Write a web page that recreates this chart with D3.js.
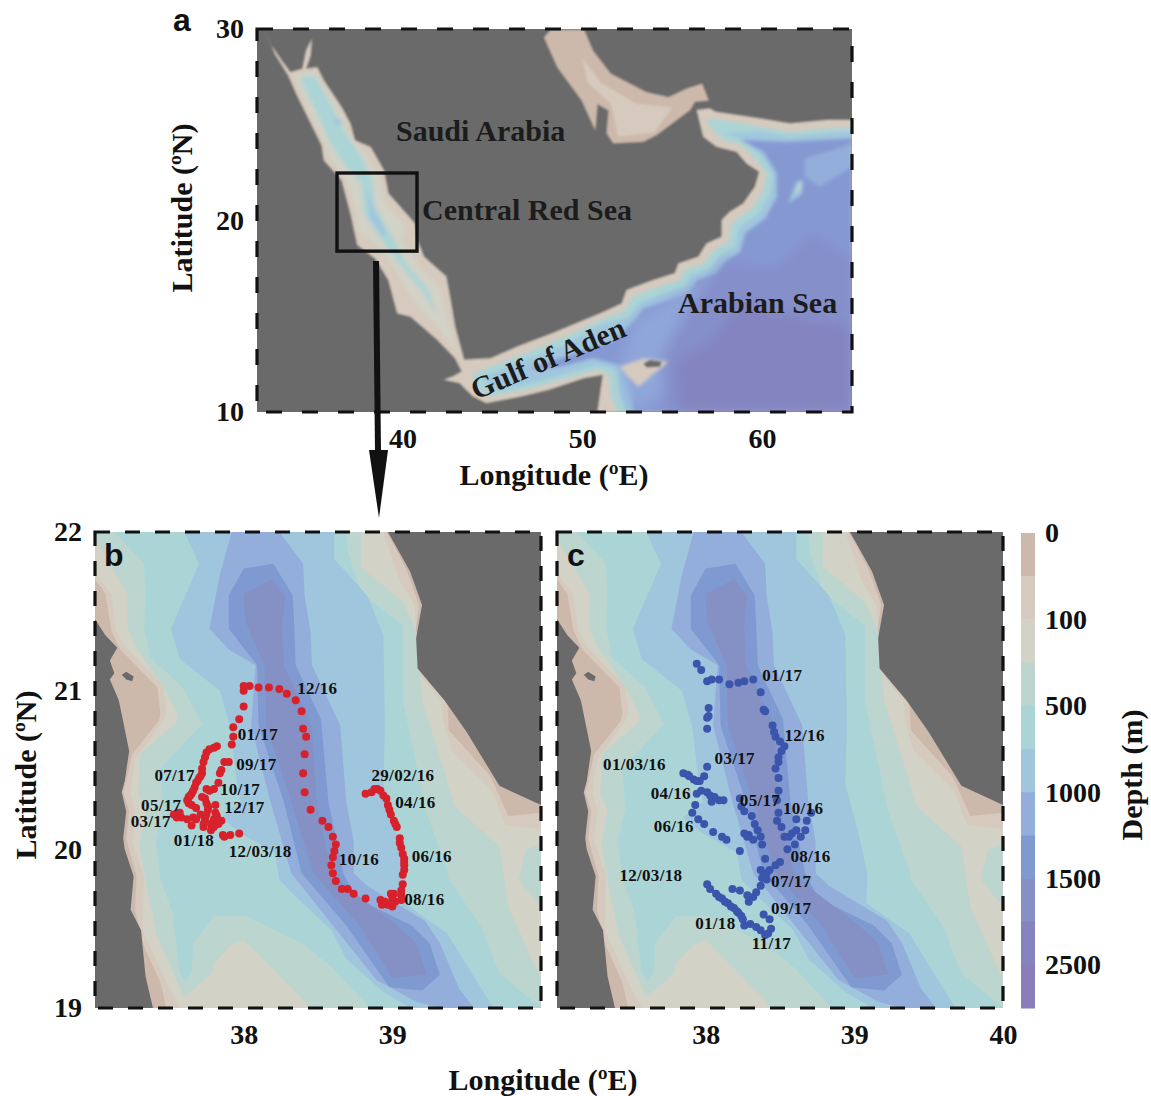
<!DOCTYPE html>
<html>
<head>
<meta charset="utf-8">
<script src="https://cdn.jsdelivr.net/npm/d3@7"></script>
<style>
  html, body { margin: 0; background: #fff; }
  text { font-family: "Liberation Serif", serif; font-weight: bold; fill: #111; }
  .tick text { font-size: 28px; font-family: "Liberation Serif", serif; font-weight: bold; fill: #111; }
  .panel-tag { font-family: "Liberation Sans", sans-serif; font-size: 32px; }
  .ax-title { font-size: 30px; }
  .date-label { font-size: 17px; letter-spacing: 0.3px; }
  .place { font-size: 30px; fill: #1c1c1c; }
</style>
</head>
<body>
<div id="chart"></div>
<script>
/* DATA ############################################################ */

// depth legend
const depthTicks = ["0", "100", "500", "1000", "1500", "2500"];
const depthColors = ["#cdb9ac", "#d6cabe", "#d2d2c6", "#bdd5cf", "#abd4d6", "#a0c6de",
                     "#93aedb", "#7f9ad0", "#8590c4", "#8684bf", "#8a7db9"];
const landColor = "#6b6b6b";

// overview map (lon, lat)
const overviewLatTicks = [10, 20, 30];
const overviewLonTicks = [40, 50, 60];

const redSeaArabianSea = [[32.33,29.95],[32.65,29.22],[33.27,28.35],[33.76,27.74],[34.43,27.92],[34.63,28.87],[34.95,29.48],[34.88,28.61],[34.63,27.92],[35.25,28.00],[35.62,27.31],[36.61,25.92],[37.10,25.05],[37.35,24.18],[38.22,23.84],[38.96,22.62],[39.21,21.41],[40.69,19.84],[40.82,18.98],[41.19,18.11],[42.43,17.07],[42.67,15.85],[42.92,14.46],[43.42,12.73],[44.90,12.81],[46.39,13.42],[48.37,14.12],[50.10,14.81],[50.98,15.15],[52.19,15.67],[52.46,16.37],[53.95,16.89],[55.15,17.24],[55.34,17.76],[56.45,18.11],[56.91,18.80],[57.75,19.15],[57.75,20.02],[58.21,20.46],[58.95,20.89],[59.60,21.76],[59.84,22.55],[59.14,22.98],[58.58,23.59],[57.47,23.85],[56.73,24.37],[56.36,25.77],[57.10,25.85],[57.38,25.68],[59.88,25.33],[61.55,25.07],[63.59,25.25],[65,25.25],[65,10],[50.84,10],[51.14,11.95],[50.10,11.77],[48.12,11.16],[46.63,10.82],[44.65,10.47],[43.91,10.82],[43.17,11.51],[42.30,11.68],[42.80,11.86],[43.29,12.12],[42.92,12.81],[41.93,13.77],[40.45,14.98],[39.70,15.16],[39.21,16.89],[38.47,18.02],[37.48,18.72],[37.10,20.37],[36.61,22.10],[35.62,23.14],[35.50,23.92],[34.13,26.53],[33.64,27.57],[32.90,28.70]];
const persianGulf = [[47.87,29.57],[48.24,29.95],[50.10,29.95],[50.59,28.87],[51.58,27.66],[53.56,26.70],[54.80,26.44],[55.79,26.88],[56.66,27.14],[57.03,26.27],[56.26,26.2],[55.99,25.77],[54.13,24.46],[53.39,24.11],[51.72,24.03],[51.35,24.55],[51.46,25.75],[50.84,26.09],[50.72,24.71],[49.97,26.27],[48.61,28.00]];
const persianGulfInner = [[50.0,28.5],[51.0,27.2],[53,26.1],[55,25.9],[54,24.6],[52,24.4],[51.6,26.1],[50.3,27.2]];
const shelfOuter = [[43.79,11.95],[45.15,12.47],[46.63,12.99],[48.61,13.77],[50.98,14.80],[52.37,15.32],[52.74,16.02],[54.22,16.54],[55.43,16.89],[55.62,17.41],[56.73,17.76],[57.28,18.46],[58.12,18.89],[58.30,19.85],[58.77,20.20],[59.42,20.63],[60.06,21.59],[60.25,22.46],[59.60,23.24],[58.86,23.94],[57.84,24.20],[57.19,24.81],[56.91,25.25],[57.38,25.33],[59.88,24.90],[61.55,24.64],[63.59,24.81],[65,24.90],[65,10],[51.95,10],[51.58,10.82],[51.46,11.95],[50.84,12.21],[48.86,11.68],[46.88,11.16],[44.90,10.82],[44.16,11.25]];
const shelfMid = [[44.41,11.77],[46.14,12.47],[48.86,13.42],[50.98,14.54],[52.65,14.97],[53.11,15.67],[54.50,16.19],[55.71,16.54],[55.99,17.15],[57.10,17.50],[57.65,18.19],[58.49,18.63],[58.67,19.59],[59.14,19.94],[59.79,20.37],[60.44,21.42],[60.62,22.46],[59.88,23.42],[59.05,24.2],[57.84,24.55],[59.88,24.64],[61.55,24.37],[63.59,24.55],[65,24.64],[65,10],[52.45,10],[52.08,10.82],[51.95,12.21],[50.84,12.47],[48.86,11.95],[46.88,11.43],[45.15,11.08]];
const slope = [[46.88,12.21],[49.36,12.99],[51.83,13.77],[52.83,14.71],[53.39,15.41],[54.78,15.84],[55.99,16.28],[56.36,16.89],[57.47,17.24],[58.03,17.93],[58.77,18.37],[59.05,19.33],[59.51,19.67],[60.16,20.11],[60.81,21.24],[60.81,22.46],[60.07,23.59],[58.77,24.2],[61.36,24.11],[65,24.29],[65,10],[52.82,10],[52.82,11.16],[52.33,12.38],[50.59,12.81],[48.86,12.38]];
const gulfMouth = [[52.83,14.71],[54.78,15.84],[57.47,17.15],[58.03,15.5],[56.54,14.1],[54.87,13.58],[54.69,10.97],[52.83,10],[52.09,12.36]];
const basin = [[56.17,15.84],[58.03,17.93],[60.62,17.41],[62.85,19.33],[65,17.93],[65,10],[54.50,10],[54.50,13.06]];
const basinDeep = [[55.43,10],[55.24,12.54],[57.28,13.75],[58.77,15.84],[60.62,15.15],[65,14.45],[65,10]];
const ridgePatch = [[62.38,23.24],[63.96,23.68],[65,24.03],[65,22.81],[63.22,21.76],[62.38,22.29]];
const ridgeA = [[61.46,20.89],[61.92,22.02],[62.29,22.11],[62.2,21.42]];
const ridgeTip = [[61.83,21.42],[62.1,22.02],[62.2,21.85],[62.0,21.42]];
const socotraShelf = [[52.09,12.36],[53.39,12.80],[54.78,12.62],[53.76,11.84],[53.11,11.32],[52.56,11.84]];
const socotra = [[53.39,12.53],[53.76,12.71],[54.41,12.62],[54.32,12.36],[53.58,12.33]];
const redSeaPale = [[34.01,27.57],[35.12,27.83],[35.62,26.96],[36.61,25.66],[36.98,24.53],[37.97,23.49],[38.71,22.27],[38.96,21.06],[40.20,19.67],[39.95,18.98],[40.94,17.59],[42.18,16.37],[42.43,14.98],[43.04,13.07],[41.93,14.46],[40.57,15.85],[39.70,17.24],[38.71,18.63],[37.60,19.32],[37.35,20.71],[36.86,22.10],[35.87,23.32],[35.62,24.18],[34.51,26.27]];
const redSeaTeal = [[34.26,27.48],[35.12,27.57],[36.11,25.92],[36.73,24.71],[37.72,23.32],[38.34,22.10],[38.47,20.71],[39.33,19.32],[40.20,17.76],[41.43,16.37],[41.93,14.98],[41.19,16.20],[39.95,17.59],[38.71,19.15],[37.85,20.37],[37.72,21.93],[36.73,22.97],[35.99,24.01],[35.25,25.57]];
const redSeaAxisN = [[36.11,25.40],[36.61,25.23],[36.61,24.97],[36.24,25.05]];
const redSeaAxisC = [[37.97,21.75],[38.34,20.71],[39.11,19.32],[38.96,19.15],[38.22,20.02]];

// central Red Sea bathymetry (lon, lat), shallowest level first
const centralLatTicks = [19, 20, 21, 22];
const level2 = [[37,22],[37,21.70],[37.07,21.61],[37.11,21.38],[37.17,21.26],[37.42,21.02],[37.44,20.85],[37.43,20.81],[37.25,20.60],[37.21,20.43],[37.19,20.36],[37.23,20.24],[37.21,20.07],[37.28,19.83],[37.27,19.62],[37.32,19.41],[37.44,19.16],[37.48,19.0],[40,19],[40,20.23],[39.78,20.21],[39.66,20.46],[39.38,20.75],[39.37,20.92],[39.25,21.05],[39.15,21.33],[39.18,21.54],[39.10,21.75],[39.02,21.90],[38.96,22]];
const level3 = [[37,22],[37,21.74],[37.11,21.61],[37.14,21.38],[37.20,21.28],[37.46,21.03],[37.48,20.85],[37.46,20.81],[37.27,20.57],[37.25,20.45],[37.24,20.36],[37.27,20.24],[37.25,20.05],[37.33,19.83],[37.32,19.49],[37.48,19.16],[37.57,19.0],[40,19],[40,20.13],[39.76,20.15],[39.67,20.37],[39.40,20.62],[39.34,20.81],[39.33,20.94],[39.17,21.12],[39.16,21.35],[39.15,21.54],[39.05,21.69],[38.94,22]];
const level4 = [[37,22],[37,21.97],[37.03,21.91],[37.22,21.61],[37.22,21.40],[37.27,21.28],[37.47,21.01],[37.56,20.84],[37.55,20.80],[37.30,20.60],[37.30,20.45],[37.29,20.36],[37.34,20.24],[37.30,20.03],[37.34,19.80],[37.42,19.45],[37.60,19.07],[37.78,19.21],[37.80,19.28],[37.92,19.40],[38.0,19.43],[38.39,19.06],[38.44,19.0],[40,19],[40,19.18],[39.78,19.64],[39.72,20.02],[39.42,20.27],[39.34,20.52],[39.20,20.94],[39.17,21.35],[39.07,21.56],[38.79,21.78],[38.79,22]];
const level4East = [[39.90,20.0],[39.85,19.81],[40,19.64],[40,20.03]];
const level5 = [[37.13,22],[37.33,21.80],[37.34,21.59],[37.33,21.40],[37.37,21.21],[37.59,21.02],[37.72,20.79],[37.44,20.51],[37.46,20.26],[37.41,20.05],[37.44,19.81],[37.52,19.61],[37.57,19.22],[37.61,19.17],[37.65,19.22],[37.66,19.41],[37.80,19.58],[38.01,19.58],[38.39,19.41],[38.59,19.26],[38.85,19.0],[40,19],[39.72,19.22],[39.60,19.51],[39.38,19.81],[39.37,19.87],[39.23,20.23],[39.07,20.94],[39.07,21.41],[38.79,21.62],[38.70,21.88],[38.69,22]];
const level6 = [[37.60,22],[37.70,21.80],[37.51,21.39],[37.57,21.20],[37.84,21.00],[37.91,20.77],[37.95,20.45],[37.98,20.30],[37.85,20.20],[37.98,20.10],[38.21,19.98],[38.24,19.81],[38.33,19.72],[38.59,19.49],[38.69,19.31],[38.94,19.10],[39.12,19.00],[39.68,19.00],[39.37,19.47],[39.08,19.66],[39.09,19.84],[39.03,20.09],[38.94,20.41],[38.95,20.78],[38.94,21.35],[38.83,21.60],[38.61,21.83],[38.61,22]];
const level7 = [[37.92,22],[37.84,21.73],[37.77,21.39],[37.90,21.26],[38.08,21.16],[38.05,20.78],[38.18,20.30],[38.32,19.85],[38.60,19.52],[38.89,19.18],[39.16,19.04],[39.32,19.00],[39.55,19.00],[39.45,19.12],[39.32,19.41],[39.22,19.55],[39.04,19.65],[38.83,19.77],[38.74,19.85],[38.74,20.05],[38.69,20.30],[38.65,20.78],[38.46,21.16],[38.45,21.37],[38.41,21.60],[38.40,21.80],[38.24,22]];
const level8 = [[37.90,21.60],[38.00,21.77],[38.20,21.80],[38.33,21.60],[38.34,21.41],[38.35,21.16],[38.52,20.82],[38.57,20.30],[38.67,19.85],[38.76,19.69],[39.13,19.52],[39.25,19.41],[39.32,19.21],[39.20,19.11],[38.98,19.13],[38.69,19.52],[38.39,19.85],[38.27,20.30],[38.10,20.78],[38.09,21.16],[37.90,21.39]];
const level9 = [[38.00,21.61],[38.19,21.70],[38.28,21.60],[38.26,21.41],[38.27,21.16],[38.46,20.78],[38.49,20.30],[38.59,19.85],[38.74,19.73],[39.03,19.52],[39.16,19.41],[39.23,19.21],[39.00,19.19],[38.78,19.52],[38.47,19.85],[38.32,20.30],[38.15,20.78],[38.14,21.16],[38.01,21.44]];
const coastWest = [[37,21.45],[37.07,21.35],[37.15,21.27],[37.10,21.19],[37.13,21.11],[37.10,21.07],[37.16,20.94],[37.18,20.85],[37.23,20.62],[37.20,20.43],[37.18,20.36],[37.21,20.24],[37.19,20.07],[37.20,20.0],[37.26,19.83],[37.24,19.62],[37.31,19.49],[37.34,19.2],[37.39,19],[37,19]];
const coastEast = [[38.97,22],[39.03,21.90],[39.12,21.75],[39.20,21.54],[39.16,21.33],[39.17,21.14],[39.35,20.94],[39.50,20.74],[39.72,20.40],[40,20.28],[40,22]];
const islet = [[37.18,21.10],[37.21,21.12],[37.26,21.09],[37.25,21.06],[37.21,21.07]];

// glider tracks (lon, lat)
const trackB = [[38.82,20.35],[38.86,20.36],[38.88,20.38],[38.90,20.38],[38.92,20.37],[38.94,20.34],[38.96,20.32],[38.97,20.28],[38.98,20.25],[38.99,20.22],[39.01,20.18],[39.02,20.16],[39.03,20.14],[39.05,20.07],[39.05,20.04],[39.06,20.01],[39.07,19.97],[39.08,19.94],[39.08,19.92],[39.08,19.90],[39.08,19.87],[39.07,19.84],[39.07,19.78],[39.06,19.74],[39.06,19.71],[39.06,19.68],[39.01,19.72],[38.99,19.72],[39.00,19.69],[39.02,19.67],[39.00,19.64],[38.97,19.65],[38.95,19.67],[38.93,19.65],[38.92,19.68],[38.82,19.69],[38.74,19.72],[38.70,19.75],[38.66,19.75],[38.62,19.80],[38.60,19.85],[38.59,19.90],[38.60,19.95],[38.61,19.99],[38.62,20.03],[38.60,20.08],[38.57,20.14],[38.53,20.18],[38.45,20.25],[38.41,20.36],[38.40,20.48],[38.41,20.60],[38.42,20.71],[38.40,20.76],[38.39,20.87],[38.35,20.94],[38.29,20.98],[38.24,21.01],[38.17,21.02],[38.10,21.02],[38.04,21.03],[38.00,21.03],[38.00,21.00],[38.00,20.90],[37.97,20.82],[37.93,20.77],[37.93,20.71],[37.92,20.66],[37.82,20.65],[37.80,20.64],[37.77,20.63],[37.75,20.61],[37.74,20.58],[37.73,20.55],[37.72,20.51],[37.72,20.48],[37.71,20.46],[37.70,20.45],[37.69,20.43],[37.68,20.42],[37.67,20.39],[37.66,20.37],[37.65,20.35],[37.64,20.34],[37.63,20.33],[37.62,20.31],[37.63,20.29],[37.65,20.28],[37.68,20.26],[37.72,20.33],[37.74,20.32],[37.75,20.29],[37.76,20.27],[37.81,20.28],[37.76,20.25],[37.75,20.22],[37.81,20.23],[37.82,20.21],[37.80,20.19],[37.85,20.18],[37.83,20.16],[37.78,20.16],[37.74,20.19],[37.71,20.22],[37.66,20.20],[37.65,20.15],[37.73,20.14],[37.78,20.12],[37.80,20.14],[37.73,20.16],[37.68,20.19],[37.62,20.19],[37.58,20.20],[37.55,20.20],[37.53,20.22],[37.57,20.23],[37.75,20.38],[37.77,20.37],[37.80,20.38],[37.83,20.42],[37.84,20.48],[37.85,20.50],[37.87,20.55],[37.90,20.55],[37.86,20.09],[37.87,20.08],[37.91,20.09],[37.97,20.10]];
const trackC = [[37.94,21.17],[37.97,21.13],[38.01,21.06],[38.04,21.07],[38.09,21.07],[38.16,21.04],[38.22,21.05],[38.26,21.06],[38.32,21.07],[38.37,20.99],[38.39,20.88],[38.40,20.87],[38.45,20.78],[38.46,20.74],[38.47,20.71],[38.50,20.68],[38.53,20.65],[38.51,20.62],[38.49,20.58],[38.49,20.55],[38.47,20.51],[38.49,20.45],[38.49,20.37],[38.48,20.31],[38.49,20.23],[38.48,20.18],[38.51,20.14],[38.53,20.08],[38.56,20.08],[38.58,20.10],[38.61,20.12],[38.64,20.08],[38.67,20.12],[38.68,20.18],[38.71,20.23],[38.61,20.19],[38.60,20.03],[38.55,20.00],[38.40,19.94],[38.50,19.92],[38.47,19.90],[38.43,19.87],[38.41,19.85],[38.37,19.87],[38.39,19.84],[38.38,19.82],[38.41,19.81],[38.37,19.77],[38.34,19.73],[38.32,19.70],[38.29,19.67],[38.28,19.71],[38.23,19.74],[38.18,19.75],[38.01,19.78],[38.03,19.75],[38.07,19.72],[38.09,19.70],[38.11,19.69],[38.13,19.67],[38.15,19.66],[38.17,19.64],[38.19,19.63],[38.21,19.61],[38.22,19.60],[38.24,19.58],[38.25,19.56],[38.26,19.52],[38.30,19.53],[38.34,19.51],[38.37,19.49],[38.40,19.46],[38.42,19.47],[38.44,19.50],[38.43,19.56],[38.39,19.59],[38.01,20.76],[38.01,20.83],[38.02,20.84],[38.02,20.89],[38.01,20.52],[37.99,20.46],[37.96,20.43],[37.92,20.44],[37.88,20.47],[37.85,20.48],[37.89,20.46],[37.94,20.43],[37.94,20.35],[37.97,20.37],[38.01,20.36],[38.03,20.34],[38.06,20.33],[38.04,20.30],[38.12,20.31],[38.09,20.31],[37.93,20.28],[37.91,20.23],[37.95,20.19],[37.99,20.16],[38.05,20.11],[38.11,20.08],[38.14,20.06],[38.23,19.99],[38.23,20.32],[38.24,20.27],[38.26,20.24],[38.31,20.21],[38.33,20.16],[38.35,20.12],[38.37,20.08],[38.38,20.03],[38.32,20.06],[38.29,20.09],[38.26,20.10],[38.28,20.08]];

// date labels, [text, lon, lat] anchored at their start
const labelsB = [["12/16",38.36,20.98],["01/17",37.96,20.69],["09/17",37.95,20.50],["07/17",37.40,20.43],["29/02/16",38.86,20.43],["04/16",39.02,20.26],["10/17",37.84,20.34],["05/17",37.31,20.24],["12/17",37.87,20.23],["03/17",37.24,20.14],["01/18",37.53,20.02],["12/03/18",37.90,19.95],["10/16",38.64,19.90],["06/16",39.13,19.92],["08/16",39.08,19.65]];
const labelsC = [["01/17",38.38,21.06],["12/16",38.53,20.68],["03/17",38.06,20.54],["01/03/16",37.31,20.50],["04/16",37.63,20.32],["05/17",38.23,20.27],["10/16",38.52,20.22],["06/16",37.65,20.11],["08/16",38.57,19.92],["12/03/18",37.42,19.80],["07/17",38.44,19.76],["09/17",38.44,19.59],["01/18",37.93,19.50],["11/17",38.31,19.37]];

/* CONSTANTS ####################################################### */
const width = 1151;
const height = 1096;

const svg = d3.select("#chart").append("svg")
  .attr("width", width)
  .attr("height", height)
  .style("display", "block");

const defs = svg.append("defs");

function blurFilter(id, amount) {
  defs.append("filter").attr("id", id)
    .attr("x", "-5%").attr("y", "-5%").attr("width", "110%").attr("height", "110%")
    .append("feGaussianBlur").attr("stdDeviation", amount);
}
blurFilter("soft", 1);
blurFilter("softer", 0.5);
blurFilter("sea-soft", 1.5);
blurFilter("deep-soft", 6);

function clipFor(id, x0, x1, y0, y1) {
  defs.append("clipPath").attr("id", id).append("rect")
    .attr("x", x0).attr("y", y0).attr("width", x1 - x0).attr("height", y1 - y0);
}

function polygonPainter(parent, x, y) {
  const line = d3.line().x(d => x(d[0])).y(d => y(d[1])).curve(d3.curveLinearClosed);
  return (coords, fill) => parent.append("path").attr("d", line(coords)).attr("fill", fill);
}

function frame(x, y, dash) {
  svg.append("rect")
    .attr("x", x.range()[0]).attr("y", y.range()[0])
    .attr("width", x.range()[1] - x.range()[0])
    .attr("height", y.range()[1] - y.range()[0])
    .attr("fill", "none").attr("stroke", "#111").attr("stroke-width", 3.2)
    .attr("stroke-dasharray", dash);
}

function axes(x, y, lonTicks, latTicks) {
  if (latTicks) {
    svg.append("g").attr("transform", `translate(${x.range()[0]},0)`)
      .call(d3.axisLeft(y).tickValues(latTicks).tickSize(0).tickPadding(13).tickFormat(d3.format("d")))
      .call(g => g.select(".domain").remove());
  }
  svg.append("g").attr("transform", `translate(0,${y.range()[1]})`)
    .call(d3.axisBottom(x).tickValues(lonTicks).tickSize(0).tickPadding(16).tickFormat(d3.format("d")))
    .call(g => g.select(".domain").remove());
}

/* PANEL A ######################################################### */
const xA = d3.scaleLinear().domain([31.9, 65]).range([257, 852]);
const yA = d3.scaleLinear().domain([30, 10]).range([29, 412]);
clipFor("clip-a", 257, 852, 29, 412);

const seaLine = d3.line().x(d => xA(d[0])).y(d => yA(d[1])).curve(d3.curveLinearClosed);
defs.append("clipPath").attr("id", "clip-sea").append("path").attr("d", seaLine(redSeaArabianSea));

const gA = svg.append("g").attr("clip-path", "url(#clip-a)")
  .append("g").attr("filter", "url(#soft)");
gA.append("rect").attr("x", 240).attr("y", 15).attr("width", 630).attr("height", 410).attr("fill", landColor);
const paintA = polygonPainter(gA, xA, yA);
paintA(redSeaArabianSea, depthColors[1]);
paintA(persianGulf, depthColors[0]);
paintA(persianGulfInner, depthColors[1]);

const seaG = gA.append("g").attr("clip-path", "url(#clip-sea)")
  .append("g").attr("filter", "url(#sea-soft)");
const paintSea = polygonPainter(seaG, xA, yA);
paintSea(redSeaPale, depthColors[2]);
paintSea(redSeaTeal, depthColors[4]);
paintSea(redSeaAxisN, depthColors[5]);
paintSea(redSeaAxisC, depthColors[5]);
paintSea(shelfOuter, depthColors[4]);
paintSea(shelfMid, depthColors[5]);
paintSea(slope, "#8698d2");
paintSea(ridgePatch, depthColors[6]);

const deepG = seaG.append("g").attr("filter", "url(#deep-soft)");
const paintDeep = polygonPainter(deepG, xA, yA);
paintDeep(gulfMouth, "#8fa6da");
paintDeep(basin, "#858fc9");
paintDeep(basinDeep, "#8484c0");

paintSea(ridgeA, depthColors[5]);
paintSea(ridgeTip, depthColors[3]);
paintSea(socotraShelf, depthColors[1]);
paintA(socotra, landColor);

frame(xA, yA, "16 20");
axes(xA, yA, overviewLonTicks, overviewLatTicks);

// study box and arrow down to the zoom panels
svg.append("rect")
  .attr("x", xA(36.35)).attr("y", yA(22.48))
  .attr("width", xA(40.8) - xA(36.35)).attr("height", yA(18.4) - yA(22.48))
  .attr("fill", "none").attr("stroke", "#111").attr("stroke-width", 3.4);
svg.append("line").attr("x1", 376).attr("y1", 261).attr("x2", 378).attr("y2", 452)
  .attr("stroke", "#111").attr("stroke-width", 6);
svg.append("path").attr("d", "M369,450L388,450L379,518Z").attr("fill", "#111");

svg.append("text").attr("class", "panel-tag").attr("x", 173).attr("y", 31).text("a");
svg.append("text").attr("class", "place").attr("x", 396).attr("y", 141).text("Saudi Arabia");
svg.append("text").attr("class", "place").attr("x", 422).attr("y", 220).text("Central Red Sea");
svg.append("text").attr("class", "place").attr("x", 678).attr("y", 313).text("Arabian Sea");
svg.append("text").attr("class", "place")
  .attr("transform", "translate(476,400) rotate(-23)").text("Gulf of Aden");

svg.append("text").attr("class", "ax-title").attr("text-anchor", "middle")
  .attr("x", 554).attr("y", 485).text("Longitude (ºE)");
svg.append("text").attr("class", "ax-title").attr("text-anchor", "middle")
  .attr("transform", "translate(192,208) rotate(-90)").text("Latitude (ºN)");

/* PANELS B, C ##################################################### */
const yCentral = d3.scaleLinear().domain([22, 19]).range([532, 1008]);

function centralPanel(id, left, right, track, dotColor, labels, lonTicks, latTicks) {
  const x = d3.scaleLinear().domain([37, 40]).range([left, right]);
  clipFor(id, left, right, 532, 1008);
  const g = svg.append("g").attr("clip-path", `url(#${id})`)
    .append("g").attr("filter", "url(#softer)");
  g.append("rect").attr("x", left - 5).attr("y", 527)
    .attr("width", right - left + 10).attr("height", 486).attr("fill", depthColors[0]);

  const paint = polygonPainter(g, x, yCentral);
  [level2, level3, level4, level5, level6, level7, level8, level9]
    .forEach((coords, i) => paint(coords, depthColors[i + 1]));
  paint(level4East, depthColors[3]);
  paint(coastWest, landColor);
  paint(coastEast, landColor);
  paint(islet, landColor);

  frame(x, yCentral, "15 15");
  axes(x, yCentral, lonTicks, latTicks);

  svg.append("g").selectAll("circle")
    .data(track)
    .join("circle")
    .attr("cx", d => x(d[0]))
    .attr("cy", d => yCentral(d[1]))
    .attr("r", 4)
    .attr("fill", dotColor);

  svg.append("g").selectAll("text")
    .data(labels)
    .join("text")
    .attr("class", "date-label")
    .attr("x", d => x(d[1]))
    .attr("y", d => yCentral(d[2]))
    .text(d => d[0]);
}

centralPanel("clip-b", 95, 541, trackB, "#d7212b", labelsB, [38, 39], centralLatTicks);
centralPanel("clip-c", 557, 1003, trackC, "#3a55ab", labelsC, [38, 39, 40], null);

svg.append("text").attr("class", "panel-tag").attr("x", 104).attr("y", 566).text("b");
svg.append("text").attr("class", "panel-tag").attr("x", 567).attr("y", 566).text("c");

svg.append("text").attr("class", "ax-title").attr("text-anchor", "middle")
  .attr("x", 543).attr("y", 1090).text("Longitude (ºE)");
svg.append("text").attr("class", "ax-title").attr("text-anchor", "middle")
  .attr("transform", "translate(36,775) rotate(-90)").text("Latitude (ºN)");

/* COLOUR BAR ###################################################### */
const bandY = d3.scaleBand().domain(d3.range(depthColors.length)).range([533, 1008]);
svg.append("g").selectAll("rect")
  .data(depthColors)
  .join("rect")
  .attr("x", 1021).attr("width", 14)
  .attr("y", (d, i) => bandY(i))
  .attr("height", bandY.bandwidth() + 0.5)
  .attr("fill", d => d);

const depthY = d3.scalePoint().domain(depthTicks)
  .range([533, 533 + bandY.step() * 10]);
svg.append("g").attr("transform", "translate(1035,0)")
  .call(d3.axisRight(depthY).tickSize(0).tickPadding(10))
  .call(g => g.select(".domain").remove());

svg.append("text").attr("class", "ax-title").attr("text-anchor", "middle")
  .attr("transform", "translate(1142,775) rotate(-90)").text("Depth (m)");
</script>
</body>
</html>
